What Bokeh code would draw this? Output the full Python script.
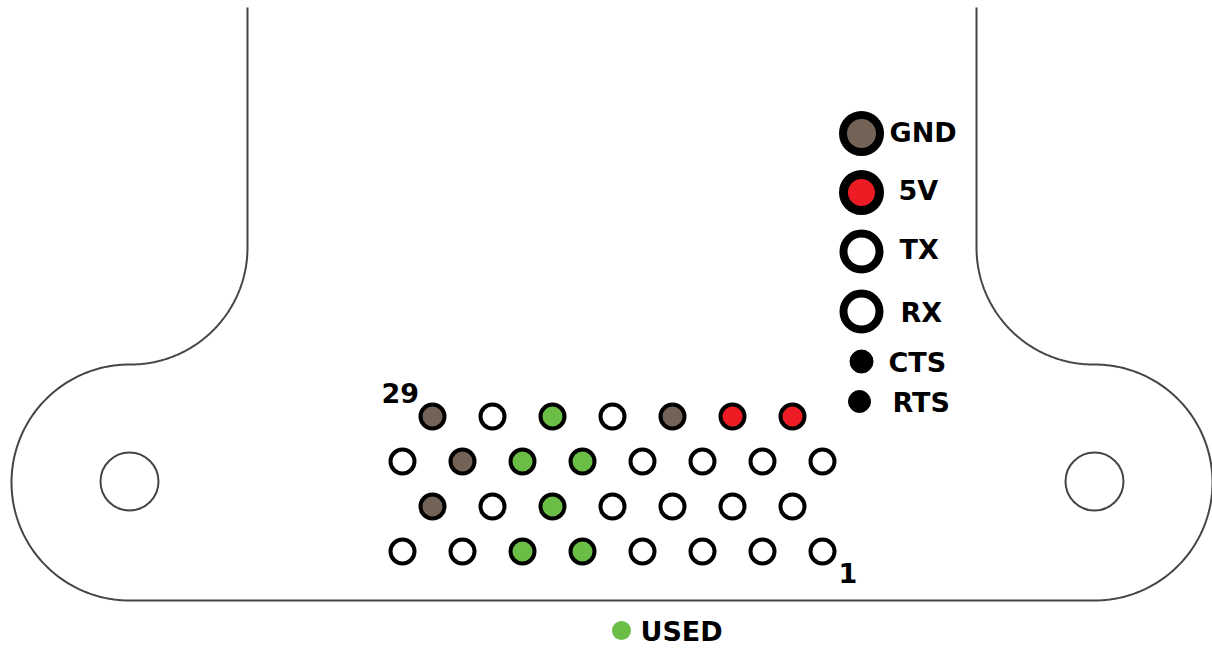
import numpy as np
from bokeh.plotting import figure
from bokeh.models import Range1d
from bokeh.core.properties import value
from bokeh.embed import file_html
from bokeh.resources import INLINE

# board outline parameters
arm_left_x = 247
arm_right_x = 976
top_y = 7
shoulder_y = 364
bottom_y = 600
lobe_r = 118
fillet_r = 117
hole_xs = [129, 1094]
hole_y = 481
hole_r = 29

# header pins: rows of x positions and their kinds
W, B, G, R = "#FFFFFF", "#736357", "#6ABD45", "#ED1C24"
row_ys = [416, 461, 506, 551]
row_xs = [
    [432, 492, 552, 612, 672, 732, 792],
    [402, 462, 522, 582, 642, 702, 762, 822],
    [432, 492, 552, 612, 672, 732, 792],
    [402, 462, 522, 582, 642, 702, 762, 822],
]
row_colors = [
    [B, W, G, W, B, R, R],
    [W, B, G, G, W, W, W, W],
    [B, W, G, W, W, W, W],
    [W, W, G, G, W, W, W, W],
]

# serial connector
conn_labels = ["GND", "5V", "TX", "RX", "CTS", "RTS"]
conn_x = [861, 861, 861, 861, 861, 859]
conn_y = [133, 192, 251, 311, 361, 401]
conn_colors = [B, R, W, W, "#000000", "#000000"]
conn_sizes = [37, 36, 36, 36, 23, 22]
conn_widths = [8, 9, 8, 8, 1, 1]
label_x = [889, 898, 899, 900, 888, 892]
label_y = [132, 190, 249, 312, 362, 402]

def arc(cx, cy, r, a0, a1):
    t = np.radians(np.linspace(a0, a1, 120))
    return cx + r * np.cos(t), cy + r * np.sin(t)

p = figure(width=1212, height=648, output_backend="svg", toolbar_location=None,
           x_range=Range1d(0, 1212), y_range=Range1d(648, 0),
           min_border=0, outline_line_color=None, background_fill_color="#FFFFFF",
           border_fill_color="#FFFFFF")
p.axis.visible = False
p.grid.visible = False

lx = hole_xs[0]
rx = hole_xs[1]
xs, ys = [np.array([arm_left_x])], [np.array([top_y])]
for a in [arc(arm_left_x - fillet_r, shoulder_y - fillet_r, fillet_r, 0, 90),
          arc(lx, shoulder_y + lobe_r, lobe_r, 270, 90)]:
    xs.append(a[0]); ys.append(a[1])
xs2, ys2 = [np.array([arm_right_x])], [np.array([top_y])]
for a in [arc(arm_right_x + fillet_r, shoulder_y - fillet_r, fillet_r, 180, 90),
          arc(rx, shoulder_y + lobe_r, lobe_r, 270, 450)]:
    xs2.append(a[0]); ys2.append(a[1])
outline_x = np.concatenate(xs + [x[::-1] for x in xs2[::-1]])
outline_y = np.concatenate(ys + [y[::-1] for y in ys2[::-1]])
p.line(outline_x, outline_y, line_color="#444444", line_width=2)

p.circle(hole_xs, [hole_y, hole_y], radius=hole_r, fill_color="#FFFFFF",
         line_color="#444444", line_width=2)

for y, rx_, rc in zip(row_ys, row_xs, row_colors):
    p.scatter(rx_, [y] * len(rx_), size=24, fill_color=rc, line_color="#000000", line_width=4)

p.scatter(conn_x, conn_y, size=conn_sizes, fill_color=conn_colors, line_color="#000000",
          line_width=conn_widths)

font = value("DejaVu Sans")
common = dict(text_font=font, text_font_style="bold", text_font_size="27px",
              text_color="#000000", text_baseline="middle", text_align="left")
p.text(label_x, label_y, text=conn_labels, **common)
p.text([381], [392], text=["29"], **common)
p.text([838], [572], text=["1"], **common)
p.scatter([621], [630], size=19, fill_color=G, line_color=None)
p.text([640], [631], text=["USED"], **common)

open("out.html", "w").write(file_html(p, INLINE))
